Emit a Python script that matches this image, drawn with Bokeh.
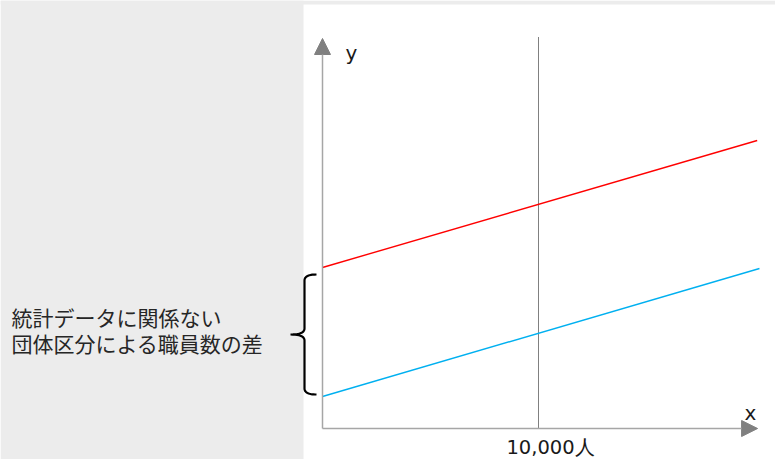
import numpy as np
from bokeh.plotting import figure
from bokeh.models import Range1d, Arrow, NormalHead, BoxAnnotation
from bokeh.core.properties import value
from bokeh.embed import file_html
from bokeh.resources import INLINE

# ---- data ----
x_red = [0, 20125]
y_red = [161, 288]
x_blue = [0, 20230]
y_blue = [32, 160]
marker_x = 10000
marker_label = "10,000人"
axis_x_label = "x"
axis_y_label = "y"
note_lines = ["統計データに関係ない", "団体区分による職員数の差"]

# ---- scales (pixel -> data) ----
PX = 46.296            # persons per pixel (x)
X0 = -322 * PX
X1 = (775 - 322) * PX
Y0, Y1 = -31, 428
x_axis_end = 20143
y_axis_end = 390

p = figure(width=775, height=459, x_range=Range1d(X0, X1), y_range=Range1d(Y0, Y1),
           x_axis_type=None, y_axis_type=None, toolbar_location=None,
           output_backend="svg", min_border=0, outline_line_color=None,
           background_fill_color="white", border_fill_color="white")
p.grid.visible = False

# left gray panel and top strip
panel = "#ececec"
p.add_layout(BoxAnnotation(right=-19 * PX, fill_color=panel, fill_alpha=1.0,
                           line_color=None, level="underlay"))
p.add_layout(BoxAnnotation(bottom=424, fill_color=panel, fill_alpha=1.0,
                           line_color=None, level="underlay"))

# axes with arrow heads
axis_color = "#a6a6a6"
head_color = "#808080"
p.add_layout(Arrow(end=NormalHead(size=16, fill_color=head_color, line_color=head_color),
                   x_start=0, y_start=0, x_end=x_axis_end, y_end=0,
                   line_color=axis_color, line_width=1.5))
p.add_layout(Arrow(end=NormalHead(size=16, fill_color=head_color, line_color=head_color),
                   x_start=0, y_start=0, x_end=0, y_end=y_axis_end,
                   line_color=axis_color, line_width=1.5))

# dotted marker line
p.line([marker_x, marker_x], [0, y_axis_end + 1], line_color="#000000",
       line_width=1, line_dash="1 1")

# series
p.line(x_red, y_red, line_color="#ff0000", line_width=1.4)
p.line(x_blue, y_blue, line_color="#00b0f0", line_width=1.4)

# labels
p.text(x=[marker_x], y=[-30], text=[marker_label], text_align="center",
       text_baseline="bottom", x_offset=12, text_font=value("DejaVu Sans"),
       text_font_size="19.5px", text_color="#1a1a1a")
p.text(x=[23 * PX], y=[376], text=[axis_y_label], text_align="left",
       text_baseline="alphabetic", text_font=value("DejaVu Sans"),
       text_font_size="20px", text_color="#1a1a1a")
p.text(x=[422 * PX], y=[16], text=[axis_x_label], text_align="left",
       text_baseline="alphabetic", text_font=value("DejaVu Sans"),
       text_font_size="20px", text_color="#1a1a1a")
p.text(x=[-311 * PX] * 2, y=[111.5, 86], text=note_lines, text_align="left",
       text_baseline="middle", text_font=value("Noto Sans CJK JP"),
       text_font_size="21px", text_color="#262626")

# curly brace spanning the gap between the two intercepts
top = y_red[0] - 7
bot = y_blue[0] + 2
mid = (top + bot) / 2
bx = -18 * PX        # vertical stroke
bend = -6 * PX       # end stubs
btip = -32 * PX      # middle tip
r = 6                # curve radius (y units)


def quad(p0, c, p1, n=12):
    t = np.linspace(0, 1, n)[:, None]
    p0, c, p1 = map(np.array, (p0, c, p1))
    return ((1 - t) ** 2) * p0 + 2 * (1 - t) * t * c + (t ** 2) * p1


pts = np.vstack([
    quad((bend, top), (bx, top), (bx, top - r)),
    quad((bx, mid + r), (bx, mid), (btip, mid)),
    quad((btip, mid), (bx, mid), (bx, mid - r)),
    quad((bx, bot + r), (bx, bot), (bend, bot)),
])
p.line(pts[:, 0], pts[:, 1], line_color="black", line_width=2.2)

open("out.html", "w").write(file_html(p, INLINE))
